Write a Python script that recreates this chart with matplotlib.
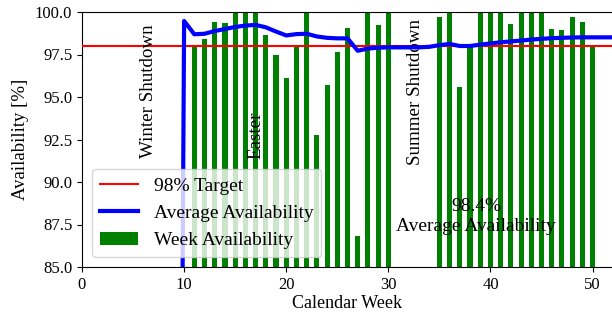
import matplotlib
matplotlib.use("Agg")
import matplotlib.pyplot as plt
import numpy as np

plt.rcParams['font.family'] = ['Liberation Serif', 'DejaVu Serif']
plt.rcParams['font.size'] = 12

# Weekly availability bars
bar_weeks = [11, 12, 13, 14, 15, 16, 17, 18, 19, 20, 21, 22, 23, 24, 25, 26, 27, 28, 29, 30,
             35, 36, 37, 38, 39, 40, 41, 42, 43, 44, 45, 46, 47, 48, 49, 50]
bar_values = [98.0, 98.43, 99.43, 99.34, 100.0, 100.0, 100.0, 98.63, 97.46, 96.11, 97.99, 100.0,
              92.77, 95.72, 97.67, 99.08, 86.82, 100.0, 99.24, 100.0,
              99.73, 100.0, 95.6, 98.14, 100.0, 100.0, 100.0, 99.32, 100.0, 100.0, 100.0,
              98.98, 98.92, 99.73, 99.41, 97.97]

# Running average availability line
avg_weeks = list(range(0, 53))
avg_values = [0, 0, 0, 0, 0, 0, 0, 0, 0, 0,
              99.47, 98.69, 98.72, 98.88, 99.0, 99.12, 99.2, 99.24, 99.1, 98.85,
              98.62, 98.7, 98.72, 98.56, 98.48, 98.45, 98.45, 97.72, 97.85, 97.9,
              97.92, 97.92, 97.92, 97.92, 97.95, 98.05, 98.12, 98.0, 98.0, 98.08,
              98.15, 98.22, 98.27, 98.32, 98.38, 98.42, 98.46, 98.48, 98.5, 98.51,
              98.51, 98.51, 98.51]

target = 98.0

fig = plt.figure(figsize=(6.12, 3.22), dpi=100)
ax = fig.add_axes([82/612, (322-267)/322, (613-82)/612, (267-12)/322])

ax.axhline(target, color='red', lw=1.5, label='98% Target', zorder=3)
ax.plot(avg_weeks, avg_values, color='blue', lw=3, label='Average Availability', zorder=4)
ax.bar(bar_weeks, bar_values, width=0.5, color='green', label='Week Availability', zorder=2)

ax.set_xlim(0, 52)
ax.set_ylim(85, 100)
ax.set_xticks([0, 10, 20, 30, 40, 50])
ax.set_yticks(np.arange(85, 100.1, 2.5))
ax.set_yticklabels([f"{v:.1f}" for v in np.arange(85, 100.1, 2.5)])
ax.tick_params(labelsize=12)
ax.set_xlabel('Calendar Week', fontsize=13, labelpad=2)
ax.set_ylabel('Availability [%]', fontsize=13.5, labelpad=4)

ax.text(6.5, 95.35, 'Winter Shutdown', rotation=90, ha='center', va='center', fontsize=13.7)
ax.text(17.0, 92.75, 'Easter', rotation=90, ha='center', va='center', fontsize=13.7)
ax.text(32.7, 95.3, 'Summer Shutdown', rotation=90, ha='center', va='center', fontsize=13.7)
ax.text(38.6, 87.95, '98.4%\nAverage Availability', ha='center', va='center', fontsize=14,
        linespacing=1.25)

ax.legend(loc='lower left', fontsize=14, borderaxespad=0.5)

fig.savefig('out.png', dpi=100)
